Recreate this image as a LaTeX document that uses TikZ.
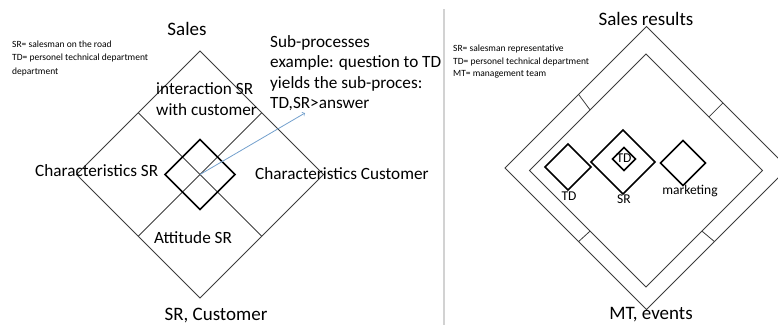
\documentclass[tikz,border=0pt]{standalone}
\usepackage{fontspec}
\setmainfont{Carlito}
\usepackage{xcolor}
\usetikzlibrary{calc}

\definecolor{linegray}{RGB}{60,60,60}
\definecolor{arrowblue}{RGB}{115,160,205}
\definecolor{sepgray}{RGB}{210,210,210}

\tikzset{
	frame/.style={draw=linegray, line width=0.8pt},
	box/.style={draw=black, line width=1.6pt},
	title/.style={font=\fontsize{19}{23}\selectfont, inner sep=0pt},
	body/.style={font=\fontsize{17.2}{20.6}\selectfont, inner sep=0pt},
	legend/.style={font=\fontsize{9.5}{13}\selectfont, inner sep=0pt},
	smalllabel/.style={font=\fontsize{13.5}{16}\selectfont, inner sep=0pt}
}

\begin{document}
\begin{tikzpicture}[x=1pt,y=-1pt]
	\useasboundingbox (0,0) rectangle (778,325);
	\clip (0,0) rectangle (778,325);
	
	% left picture
	\coordinate (ltop) at (200,51);
	\coordinate (lright) at (323.5,174.5);
	\coordinate (lbottom) at (200,298);
	\coordinate (lleft) at (76.5,174.5);
	\coordinate (lctr) at (200,174.5);
	\draw[frame] (ltop) -- (lright) -- (lbottom) -- (lleft) -- cycle;
	\draw[frame] ($(ltop)!0.5!(lleft)$) -- ($(lright)!0.5!(lbottom)$);
	\draw[frame] ($(ltop)!0.5!(lright)$) -- ($(lleft)!0.5!(lbottom)$);
	\draw[box] (lctr) ++(0,-35) -- ++(35,35) -- ++(-35,35) -- ++(-35,-35) -- cycle;
	
	\node[title, anchor=base] (sales) at (187,35) {Sales};
	\foreach \t [count=\i] in {SR= salesman on the road, TD= personel technical department, department}{
		\node[legend, anchor=base west] (leftkey\i) at (12,{34.2+13.3*\i}) {\t};
	}
	\foreach \t [count=\i] in {interaction SR, with customer}{
		\node[body, anchor=base west] (inter\i) at (156,{73+21*\i}) {\t};
	}
	\foreach \t [count=\i] in {Sub-processes, example: question to TD, yields the sub-proces:, {TD,SR>answer}}{
		\node[body, anchor=base west] (sub\i) at (270,{26.4+20.6*\i}) {\t};
	}
	\node[body, anchor=base west] (charsr) at (35,176) {Characteristics SR};
	\node[body, anchor=base west] (charcust) at (255,179) {Characteristics Customer};
	\node[body, anchor=base west] (attitude) at (154,243) {Attitude SR};
	\node[title, anchor=base] (srcust) at (216,320) {SR, Customer};
	
	\coordinate (arrowend) at (305,113);
	\draw[arrowblue, line width=0.8pt, ->] (lctr) -- (arrowend);
	
	% separator
	\draw[sepgray, line width=1.5pt] (444,9) -- (444,325);
	
	% right picture
	\coordinate (otop) at (646.5,26.5);
	\coordinate (oright) at (788,168);
	\coordinate (obottom) at (646.5,309.5);
	\coordinate (oleft) at (505,168);
	\coordinate (itop) at (646,54);
	\coordinate (iright) at (762.5,170.5);
	\coordinate (ibottom) at (646,287);
	\coordinate (ileft) at (529.5,170.5);
	\draw[frame] (otop) -- (oright) -- (obottom) -- (oleft) -- cycle;
	\draw[frame] (itop) -- (iright) -- (ibottom) -- (ileft) -- cycle;
	\draw[frame] ($(otop)!0.48!(oleft)$) -- ($(itop)!0.48!(ileft)$);
	\draw[frame] ($(otop)!0.54!(oright)$) -- ($(itop)!0.54!(iright)$);
	\draw[frame] ($(oleft)!0.52!(obottom)$) -- ($(ileft)!0.52!(ibottom)$);
	\draw[frame] ($(obottom)!0.48!(oright)$) -- ($(ibottom)!0.48!(iright)$);
	
	\foreach \cx/\cy/\h in {568/167/23, 623/162/32, 624/159/11.5, 683/163/22.5}{
		\draw[box] (\cx,\cy) ++(0,-\h) -- ++(\h,\h) -- ++(-\h,\h) -- ++(-\h,-\h) -- cycle;
	}
	
	\node[title, anchor=base] (results) at (646,25) {Sales results};
	\foreach \t [count=\i] in {SR= salesman representative, TD= personel technical department, MT= management team}{
		\node[legend, anchor=base west] (rightkey\i) at (453,{39.5+12.4*\i}) {\t};
	}
	\node[smalllabel, anchor=base] (tdlabel) at (569,200) {TD};
	\node[smalllabel, anchor=base] (srlabel) at (624,203) {SR};
	\node[smalllabel, anchor=base] (mktlabel) at (690,194) {marketing};
	\node[smalllabel, anchor=base] (tdinner) at (624,162) {TD};
	\node[title, anchor=base] (mtevents) at (651,319.5) {MT, events};
\end{tikzpicture}
\end{document}
